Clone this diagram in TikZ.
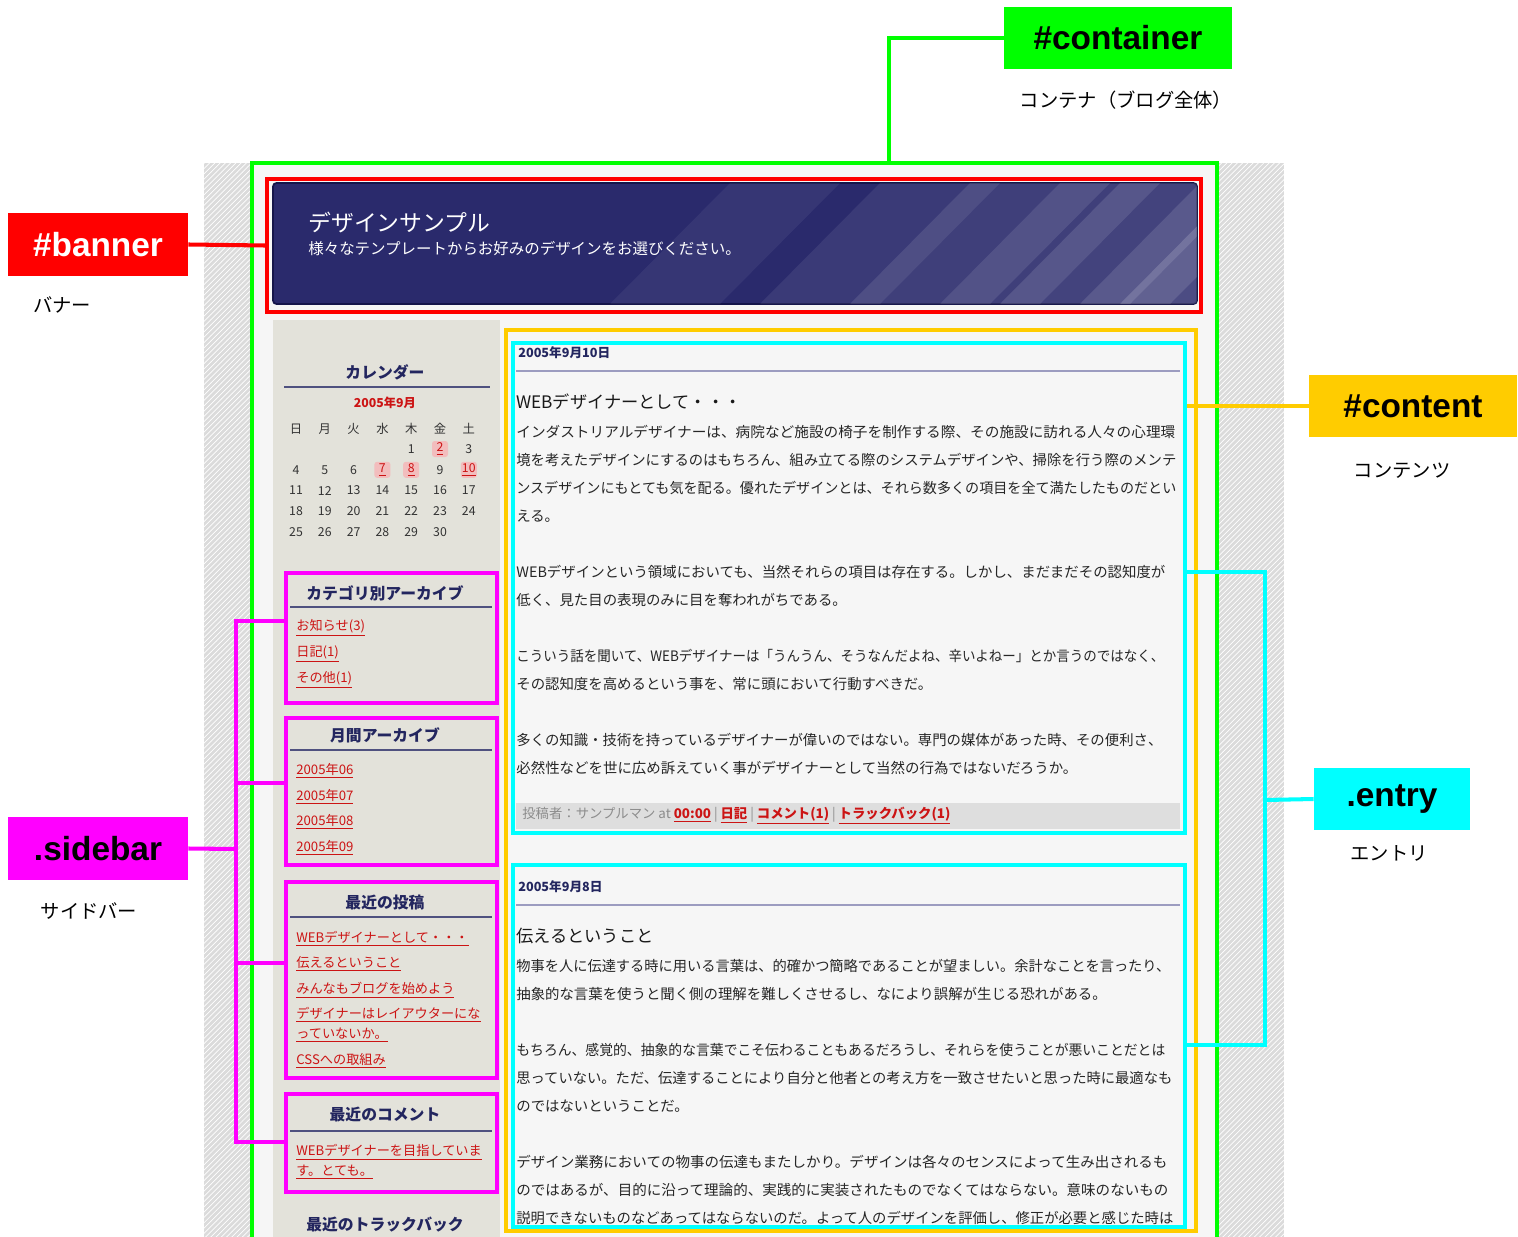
\documentclass[tikz,border=0pt]{standalone}
\usepackage{fontspec}
\setmainfont{Noto Sans CJK JP}
\newfontfamily\labfont{Liberation Sans}
\usetikzlibrary{fit,patterns}

\definecolor{boxgreen}{HTML}{00FF00}
\definecolor{boxred}{HTML}{FF0000}
\definecolor{boxyellow}{HTML}{FFCC00}
\definecolor{boxcyan}{HTML}{00FFFF}
\definecolor{boxmagenta}{HTML}{FF00FF}
\definecolor{navy}{HTML}{23265F}
\definecolor{bannerbg}{HTML}{2A2A6C}
\definecolor{bannerdark}{HTML}{15154A}
\definecolor{linkred}{HTML}{CC1414}
\definecolor{sidebg}{HTML}{E3E2DA}
\definecolor{pagebg}{HTML}{F6F6F6}
\definecolor{rulegray}{HTML}{9C9CC0}
\definecolor{daypink}{HTML}{F2BDBD}
\definecolor{footbg}{HTML}{DEDEDE}

\newcommand{\weblink}[1]{\textcolor{linkred}{\underline{#1}}}
\newcommand{\linefit}[2]{\ifnum#1=0 #2\else\resizebox{\dimexpr 0.02cm*#1\relax}{\height}{#2}\fi}

\tikzset{
  outline/.style={draw=#1, line width=2.3pt, inner sep=0pt},
  tagbox/.style={fill=#1, inner sep=0pt, font=\labfont\bfseries\fontsize{19}{19}\selectfont},
  subcap/.style={inner sep=0pt, font=\fontsize{11}{11}\selectfont},
  wire/.style={draw=#1, line width=2.3pt},
  sbtitle/.style={inner sep=0pt, text=navy, font=\bfseries\fontsize{9}{9}\selectfont},
  sbrule/.style={draw=navy!80, line width=1.2pt},
  sblink/.style={anchor=west, inner sep=0pt, font=\fontsize{7.5}{7.5}\selectfont},
  calday/.style={inner sep=0pt, text=black!80, font=\fontsize{7}{7}\selectfont},
  hiday/.style={calday, fill=daypink, text=linkred, rounded corners=1.5pt, minimum size=0.32cm},
  edate/.style={anchor=west, inner sep=0pt, text=navy, font=\bfseries\fontsize{7.2}{7.2}\selectfont},
  erule/.style={draw=rulegray, line width=1.5pt},
  etitle/.style={anchor=west, inner sep=0pt, text=black!90, font=\fontsize{9.8}{9.8}\selectfont},
  ebody/.style={anchor=west, inner sep=0pt, text=black!85, font=\fontsize{8.2}{8.2}\selectfont},
  efoot/.style={anchor=west, inner sep=0pt, text=black!45, font=\fontsize{7.6}{7.6}\selectfont}
}

\begin{document}
\begin{tikzpicture}[x=0.02cm, y=-0.02cm]
  \useasboundingbox (0,0) rectangle (1518,1237);
  \clip (0,0) rectangle (1518,1237);
  \fill[white] (0,0) rectangle (1518,1237);

  % page
  \fill[black!14] (204,163) rectangle (1284,1240);
  \fill[pattern=north east lines, pattern color=white] (204,163) rectangle (1284,1240);
  \fill[pagebg] (252,163) rectangle (1217,1240);
  \fill[sidebg] (273,320) rectangle (500,1240);

  % banner
  \filldraw[fill=bannerbg, draw=bannerdark, line width=1pt, rounded corners=2pt] (273,183) rectangle (1197,304);
  \begin{scope}
    \clip[rounded corners=2pt] (273,183) rectangle (1197,304);
    \foreach \a/\b/\o in {610/720/0.06, 760/880/0.08, 850/990/0.1, 940/1040/0.1,
                          1000/1130/0.12, 1080/1170/0.12, 1120/1320/0.16, 1200/1330/0.1}
      \fill[white, opacity=\o] (\a,304) -- (\b,304) -- (\b+120,183) -- (\a+120,183) -- cycle;
  \end{scope}
  \node[anchor=west, inner sep=0pt, text=white, font=\fontsize{13}{13}\selectfont] (btitle) at (308,222) {デザインサンプル};
  \node[anchor=west, inner sep=0pt, text=white, font=\fontsize{8.8}{8.8}\selectfont] (bsub) at (308,249) {様々なテンプレートからお好みのデザインをお選びください。};

  % calendar
  \node[sbtitle] (caltitle) at (385,372) {カレンダー};
  \draw[sbrule] (284,387) -- (490,387);
  \node[inner sep=0pt, text=linkred, font=\bfseries\fontsize{7}{7}\selectfont] (calmonth) at (385,403) {2005年9月};
  \foreach \w [count=\i from 0] in {日,月,火,水,木,金,土}
    \node[calday] (w\i) at (296+28.8*\i,429) {\w};
  \foreach \d in {1,...,30}{
    \pgfmathtruncatemacro\c{mod(\d+3,7)}
    \pgfmathtruncatemacro\r{floor((\d+3)/7)}
    \node[calday] (d\d) at (296+28.8*\c,449+20.8*\r) {\d};
  }
  \foreach \d in {2,7,8,10}
    \node[hiday] (h\d) at (d\d) {\underline{\d}};

  % sidebar blocks
  \node[sbtitle] (cattitle) at (385,593) {カテゴリ別アーカイブ};
  \draw[sbrule] (290,607) -- (492,607);
  \node[sblink] (cat1) at (296,628) {\weblink{お知らせ(3)}};
  \node[sblink] (cat2) at (296,654) {\weblink{日記(1)}};
  \node[sblink] (cat3) at (296,680) {\weblink{その他(1)}};

  \node[sbtitle] (montitle) at (385,735) {月間アーカイブ};
  \draw[sbrule] (290,750) -- (492,750);
  \node[sblink] (mon1) at (296,771) {\weblink{2005年06}};
  \node[sblink] (mon2) at (296,797) {\weblink{2005年07}};
  \node[sblink] (mon3) at (296,822) {\weblink{2005年08}};
  \node[sblink] (mon4) at (296,848) {\weblink{2005年09}};

  \node[sbtitle] (posttitle) at (385,902) {最近の投稿};
  \draw[sbrule] (290,917) -- (492,917);
  \node[sblink] (post1) at (296,939) {\weblink{WEBデザイナーとして・・・}};
  \node[sblink] (post2) at (296,964) {\weblink{伝えるということ}};
  \node[sblink] (post3) at (296,990) {\weblink{みんなもブログを始めよう}};
  \node[sblink] (post4) at (296,1015) {\weblink{デザイナーはレイアウターにな}};
  \node[sblink] (post4b) at (296,1035) {\weblink{っていないか。}};
  \node[sblink] (post5) at (296,1061) {\weblink{CSSへの取組み}};

  \node[sbtitle] (comtitle) at (385,1115) {最近のコメント};
  \draw[sbrule] (290,1131) -- (492,1131);
  \node[sblink] (com1) at (296,1152) {\weblink{WEBデザイナーを目指していま}};
  \node[sblink] (com1b) at (296,1172) {\weblink{す。とても。}};

  \node[sbtitle] (tbtitle) at (385,1225) {最近のトラックバック};

  % entry 1
  \node[edate] (e1date) at (518,353) {2005年9月10日};
  \draw[erule] (516,371) -- (1180,371);
  \node[etitle] (e1title) at (516,402) {WEBデザイナーとして・・・};
  \foreach \y/\w/\t [count=\i] in {
    432/659/インダストリアルデザイナーは、病院など施設の椅子を制作する際、その施設に訪れる人々の心理環,
    460/660/境を考えたデザインにするのはもちろん、組み立てる際のシステムデザインや、掃除を行う際のメンテ,
    488/660/ンスデザインにもとても気を配る。優れたデザインとは、それら数多くの項目を全て満たしたものだとい,
    516/0/える。,
    572/649/WEBデザインという領域においても、当然それらの項目は存在する。しかし、まだまだその認知度が,
    600/0/低く、見た目の表現のみに目を奪われがちである。,
    656/648/こういう話を聞いて、WEBデザイナーは「うんうん、そうなんだよね、辛いよねー」とか言うのではなく、,
    684/0/その認知度を高めるという事を、常に頭において行動すべきだ。,
    740/646/多くの知識・技術を持っているデザイナーが偉いのではない。専門の媒体があった時、その便利さ、,
    768/561/必然性などを世に広め訴えていく事がデザイナーとして当然の行為ではないだろうか。}
    \node[ebody] (ea\i) at (516,\y) {\linefit{\w}{\t}};
  \fill[footbg] (516,803) rectangle (1180,829);
  \node[efoot] (e1foot) at (522,816) {投稿者：サンプルマン at \textbf{\weblink{00:00}} | \textbf{\weblink{日記}} | \textbf{\weblink{コメント(1)}} | \textbf{\weblink{トラックバック(1)}}};

  % entry 2
  \node[edate] (e2date) at (518,887) {2005年9月8日};
  \draw[erule] (516,905) -- (1180,905);
  \node[etitle] (e2title) at (516,936) {伝えるということ};
  \begin{scope}
    \clip (513,865) rectangle (1185,1225);
    \foreach \y/\w/\t [count=\i] in {
      966/654/物事を人に伝達する時に用いる言葉は、的確かつ簡略であることが望ましい。余計なことを言ったり、,
      994/0/抽象的な言葉を使うと聞く側の理解を難しくさせるし、なにより誤解が生じる恐れがある。,
      1050/649/もちろん、感覚的、抽象的な言葉でこそ伝わることもあるだろうし、それらを使うことが悪いことだとは,
      1078/656/思っていない。ただ、伝達することにより自分と他者との考え方を一致させたいと思った時に最適なも,
      1106/0/のではないということだ。,
      1162/651/デザイン業務においての物事の伝達もまたしかり。デザインは各々のセンスによって生み出されるも,
      1190/652/のではあるが、目的に沿って理論的、実践的に実装されたものでなくてはならない。意味のないもの,
      1218/657/説明できないものなどあってはならないのだ。よって人のデザインを評価し、修正が必要と感じた時は}
      \node[ebody] (eb\i) at (516,\y) {\linefit{\w}{\t}};
  \end{scope}

  % boxes
  \node[outline=boxgreen, fit={(252,163) (1217,1260)}] (container) {};
  \node[outline=boxred, fit={(267,179) (1201,312)}] (banner) {};
  \node[outline=boxyellow, fit={(506,330) (1196,1231)}] (content) {};
  \node[outline=boxcyan, fit={(513,343) (1185,833)}] (e1) {};
  \node[outline=boxcyan, fit={(513,865) (1185,1227)}] (e2) {};
  \node[outline=boxmagenta, fit={(286,573) (497,703)}] (catbox) {};
  \node[outline=boxmagenta, fit={(286,718) (497,865)}] (monbox) {};
  \node[outline=boxmagenta, fit={(286,882) (497,1078)}] (postbox) {};
  \node[outline=boxmagenta, fit={(286,1094) (497,1192)}] (combox) {};

  % labels
  \node[tagbox=boxgreen, minimum width=4.56cm, minimum height=1.24cm] (containerlbl) at (1118,38) {\#container};
  \node[subcap] (containercap) at (1126,100) {コンテナ（ブログ全体）};
  \node[tagbox=boxred, text=white, minimum width=3.6cm, minimum height=1.26cm] (bannerlbl) at (98,244.5) {\#banner};
  \node[subcap] (bannercap) at (62,305) {バナー};
  \node[tagbox=boxyellow, minimum width=4.16cm, minimum height=1.24cm] (contentlbl) at (1413,406) {\#content};
  \node[subcap] (contentcap) at (1402,471) {コンテンツ};
  \node[tagbox=boxcyan, minimum width=3.12cm, minimum height=1.24cm] (entrylbl) at (1392,799) {.entry};
  \node[subcap] (entrycap) at (1389,853) {エントリ};
  \node[tagbox=boxmagenta, minimum width=3.6cm, minimum height=1.26cm] (sidebarlbl) at (98,848.5) {.sidebar};
  \node[subcap] (sidebarcap) at (89,911) {サイドバー};

  % connectors
  \coordinate (ctop) at (889,163);
  \coordinate (cstub) at (1187,406);
  \coordinate (ej) at (1265,800);
  \coordinate (sj) at (236,849);
  \draw[wire=boxgreen] (containerlbl.west) -| (ctop);
  \draw[wire=boxred] (bannerlbl.east) -- (banner.west);
  \draw[wire=boxyellow] (contentlbl.west) -- (cstub);
  \draw[wire=boxcyan] (e1.east |- 0,572) -| (ej) |- (e2.east |- 0,1045);
  \draw[wire=boxcyan] (entrylbl.west) -- (ej);
  \draw[wire=boxmagenta] (catbox.west |- 0,621) -| (sj) |- (combox.west |- 0,1142);
  \draw[wire=boxmagenta] (monbox.west |- 0,783) -- (sj |- 0,783);
  \draw[wire=boxmagenta] (postbox.west |- 0,963) -- (sj |- 0,963);
  \draw[wire=boxmagenta] (sidebarlbl.east) -- (sj);
\end{tikzpicture}
\end{document}
